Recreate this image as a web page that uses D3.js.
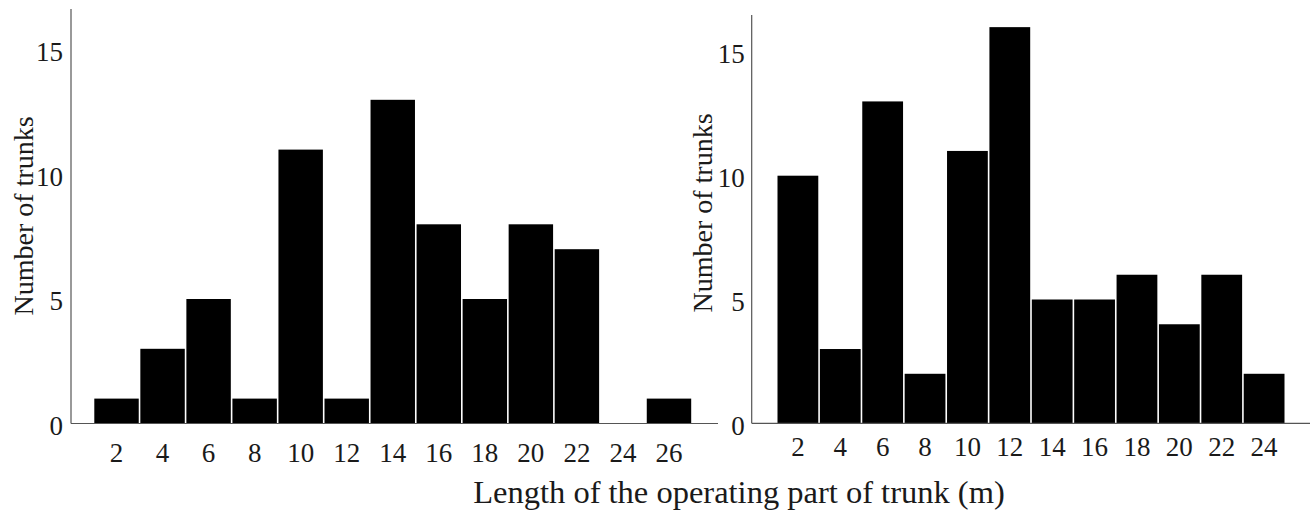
<!DOCTYPE html>
<html>
<head>
<meta charset="utf-8">
<script src="https://cdn.jsdelivr.net/npm/d3@7"></script>
<style>
  html, body { margin: 0; padding: 0; background: #fff; }
  svg { display: block; }
  text { font-family: "Liberation Serif", "Times New Roman", serif; fill: #1a1a1a; }
</style>
</head>
<body>
<div id="chart"></div>
<script>
// data
const leftBins = ["2", "4", "6", "8", "10", "12", "14", "16", "18", "20", "22", "24", "26"];
const leftCounts = [1, 3, 5, 1, 11, 1, 13, 8, 5, 8, 7, 0, 1];
const rightBins = ["2", "4", "6", "8", "10", "12", "14", "16", "18", "20", "22", "24"];
const rightCounts = [10, 3, 13, 2, 11, 16, 5, 5, 6, 4, 6, 2];
const yTicks = [0, 5, 10, 15];
const yLabel = "Number of trunks";
const xLabel = "Length of the operating part of trunk (m)";

const width = 1312;
const height = 513;

const svg = d3.select("#chart")
    .append("svg")
    .attr("width", width)
    .attr("height", height);

// one panel = one histogram
function panel(bins, counts, opt) {
    const x = d3.scaleBand()
        .domain(bins)
        .range([opt.barLeft, opt.barRight])
        .padding(0);

    const y = d3.scaleLinear()
        .domain([0, 16])
        .range([opt.base, opt.base - 16 * opt.unit]);

    const g = svg.append("g");

    // bars
    g.append("g")
        .selectAll("rect")
        .data(counts)
        .enter().append("rect")
        .attr("x", (d, i) => x(bins[i]) + 0.8)
        .attr("width", x.bandwidth() - 1.6)
        .attr("y", d => y(d))
        .attr("height", d => y(0) - y(d))
        .attr("fill", "#000");

    // baseline and y axis line
    g.append("line")
        .attr("x1", opt.axisX).attr("x2", opt.lineEnd)
        .attr("y1", y(0)).attr("y2", y(0))
        .attr("stroke", "#555").attr("stroke-width", 1.2);

    g.append("line")
        .attr("x1", opt.axisX).attr("x2", opt.axisX)
        .attr("y1", opt.axisTop).attr("y2", y(0))
        .attr("stroke", "#555").attr("stroke-width", 1.2);

    // y ticks
    const ya = g.append("g")
        .attr("transform", `translate(${opt.axisX},0)`)
        .call(d3.axisLeft(y).tickValues(yTicks).tickSize(0).tickPadding(opt.yPad));
    ya.select(".domain").remove();
    ya.selectAll("text")
        .attr("dy", "0.4em")
        .style("font-size", "27px")
        .style("font-family", "Liberation Serif");

    // x ticks
    const xa = g.append("g")
        .attr("transform", `translate(0,${y(0)})`)
        .call(d3.axisBottom(x).tickSize(0).tickPadding(opt.xPad));
    xa.select(".domain").remove();
    xa.selectAll("text")
        .style("font-size", "27px")
        .style("font-family", "Liberation Serif");

    // y label
    g.append("text")
        .attr("transform", `translate(${opt.labelX},${opt.labelY}) rotate(-90)`)
        .attr("text-anchor", "middle")
        .style("font-size", "28px")
        .text(yLabel);
}

panel(leftBins, leftCounts, {
    barLeft: 93.5, barRight: 692, base: 423.5, unit: 24.9,
    axisX: 71, axisTop: 9, lineEnd: 718, yPad: 8, xPad: 19,
    labelX: 33, labelY: 216
});

panel(rightBins, rightCounts, {
    barLeft: 776.7, barRight: 1285.3, base: 423.3, unit: 24.76,
    axisX: 751.7, axisTop: 15, lineEnd: 1310, yPad: 7, xPad: 14,
    labelX: 712, labelY: 213
});

// shared x label
svg.append("text")
    .attr("x", 739)
    .attr("y", 503)
    .attr("text-anchor", "middle")
    .style("font-size", "32.5px")
    .text(xLabel);
</script>
</body>
</html>
